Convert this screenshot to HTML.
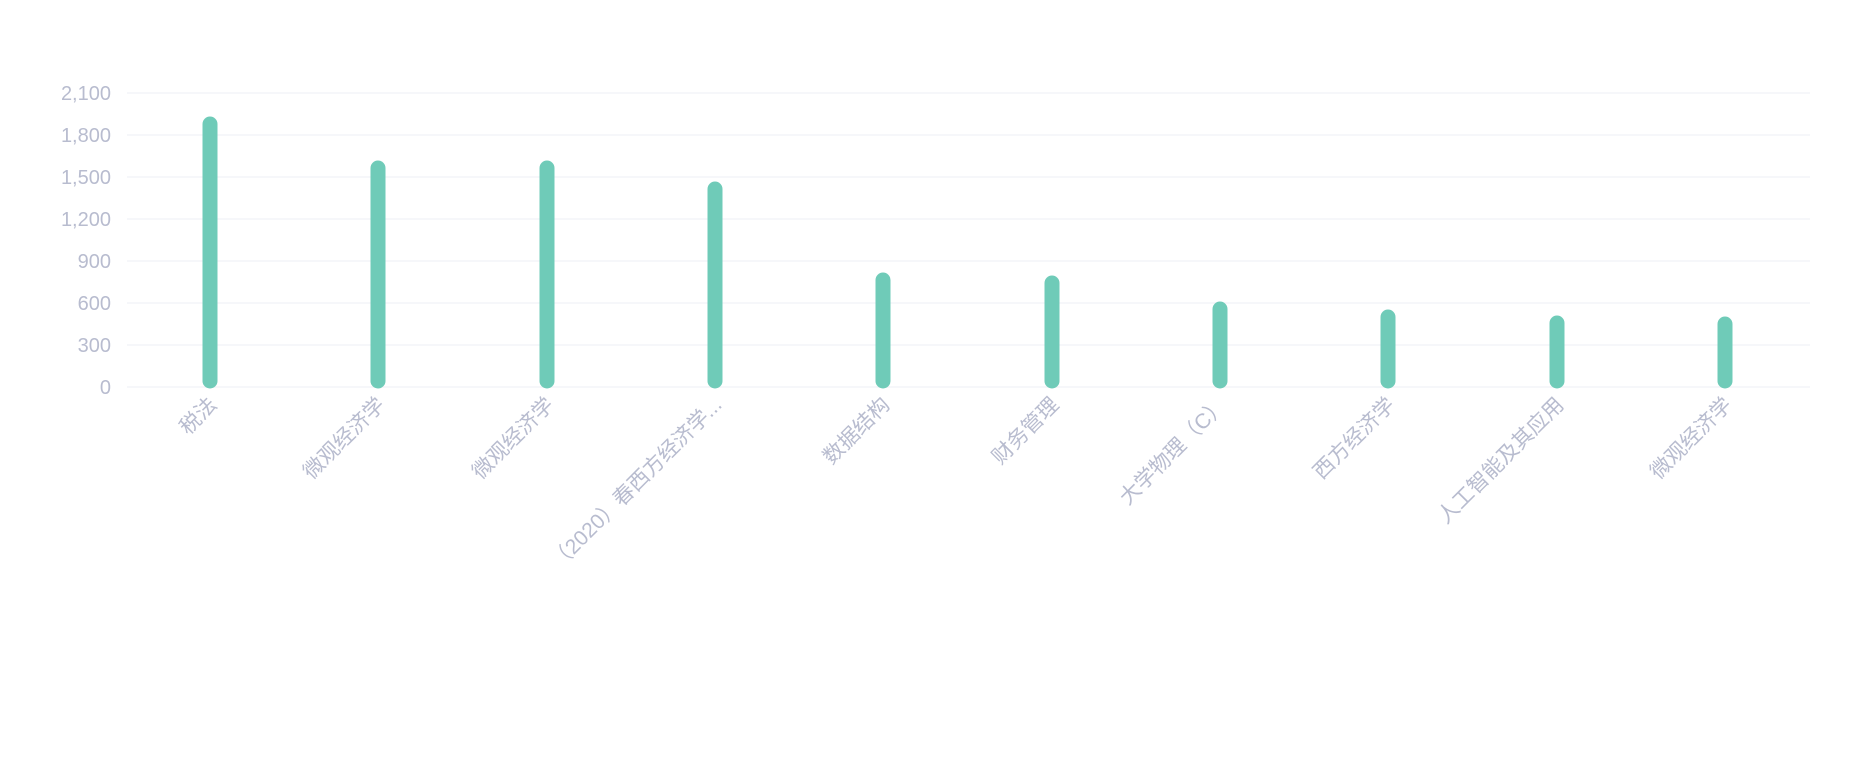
<!DOCTYPE html>
<html><head><meta charset="utf-8"><style>
html,body{margin:0;padding:0;background:#fff;}
svg{display:block;}
text{font-family:"Liberation Sans","Noto Sans CJK SC",sans-serif;fill:#b8bccf;}
</style></head><body>
<svg width="1867" height="779" viewBox="0 0 1867 779">
<g stroke="#f1f2f6" stroke-width="1.2">
<line x1="127" y1="93" x2="1810" y2="93"/>
<line x1="127" y1="135" x2="1810" y2="135"/>
<line x1="127" y1="177" x2="1810" y2="177"/>
<line x1="127" y1="219" x2="1810" y2="219"/>
<line x1="127" y1="261" x2="1810" y2="261"/>
<line x1="127" y1="303" x2="1810" y2="303"/>
<line x1="127" y1="345" x2="1810" y2="345"/>
<line x1="127" y1="387" x2="1810" y2="387"/>
</g>
<g font-size="20" text-anchor="end">
<text x="111" y="100">2,100</text>
<text x="111" y="142">1,800</text>
<text x="111" y="184">1,500</text>
<text x="111" y="226">1,200</text>
<text x="111" y="268">900</text>
<text x="111" y="310">600</text>
<text x="111" y="352">300</text>
<text x="111" y="394">0</text>
</g>
<g stroke="#6fcbb8" stroke-width="15" stroke-linecap="round">
<line x1="210" y1="124" x2="210" y2="381"/>
<line x1="378" y1="168" x2="378" y2="381"/>
<line x1="547" y1="168" x2="547" y2="381"/>
<line x1="715" y1="189" x2="715" y2="381"/>
<line x1="883" y1="280" x2="883" y2="381"/>
<line x1="1052" y1="283" x2="1052" y2="381"/>
<line x1="1220" y1="309" x2="1220" y2="381"/>
<line x1="1388" y1="317" x2="1388" y2="381"/>
<line x1="1557" y1="323" x2="1557" y2="381"/>
<line x1="1725" y1="324" x2="1725" y2="381"/>
</g>
<g font-size="21" text-anchor="end">
<text transform="translate(218,406) rotate(-45)">税法</text>
<text transform="translate(386,406) rotate(-45)">微观经济学</text>
<text transform="translate(555,406) rotate(-45)">微观经济学</text>
<text transform="translate(723,406) rotate(-45)">（2020）春西方经济学...</text>
<text transform="translate(891,406) rotate(-45)">数据结构</text>
<text transform="translate(1060,406) rotate(-45)">财务管理</text>
<text transform="translate(1228,406) rotate(-45)">大学物理（C）</text>
<text transform="translate(1396,406) rotate(-45)">西方经济学</text>
<text transform="translate(1565,406) rotate(-45)">人工智能及其应用</text>
<text transform="translate(1733,406) rotate(-45)">微观经济学</text>
</g>
</svg>
</body></html>
